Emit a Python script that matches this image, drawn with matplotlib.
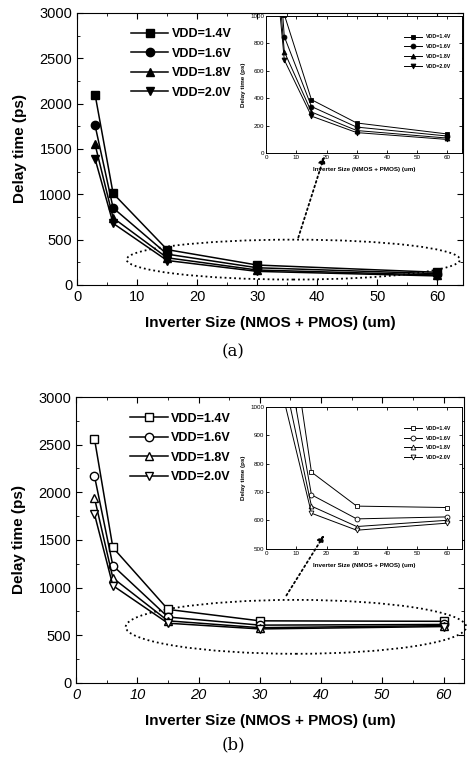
import matplotlib
matplotlib.use("Agg")
import matplotlib.pyplot as plt
from matplotlib.patches import Ellipse
from matplotlib.ticker import MultipleLocator

plt.rcParams['font.family'] = ['Liberation Sans', 'DejaVu Sans']

sizes = [3, 6, 15, 30, 60]
labels = ['VDD=1.4V', 'VDD=1.6V', 'VDD=1.8V', 'VDD=2.0V']
markers = ['s', 'o', '^', 'v']

# (a) delay time, ps
delay_a = [
    [2100, 1010, 390, 220, 140],
    [1760, 850, 340, 190, 125],
    [1550, 740, 300, 165, 110],
    [1390, 680, 270, 150, 100],
]
# (b) delay time, ps
delay_b = [
    [2560, 1420, 770, 650, 645],
    [2170, 1230, 690, 605, 612],
    [1940, 1100, 650, 578, 600],
    [1770, 1020, 625, 565, 590],
]

fig = plt.figure(figsize=(4.67, 7.62), dpi=100)


def draw_main(rect, data, filled, xmax, italic):
    ax = fig.add_axes(rect)
    for vals, lab, m in zip(data, labels, markers):
        ax.plot(sizes, vals, color='k', lw=1.1, marker=m, ms=6,
                mfc='k' if filled else 'white', mec='k', mew=1, label=lab)
    ax.set_xlim(0, xmax)
    ax.set_ylim(0, 3000)
    ax.xaxis.set_major_locator(MultipleLocator(10))
    ax.xaxis.set_minor_locator(MultipleLocator(5))
    ax.yaxis.set_major_locator(MultipleLocator(500))
    ax.yaxis.set_minor_locator(MultipleLocator(250))
    ax.set_xlabel('Inverter Size (NMOS + PMOS) (um)', fontsize=11, fontweight='bold', labelpad=9)
    ax.set_ylabel('Delay time (ps)', fontsize=11, fontweight='bold', labelpad=9)
    ax.tick_params(which='both', direction='in', top=True, right=True, labelsize=10.5)
    ax.tick_params(which='major', length=4)
    ax.tick_params(which='minor', length=2)
    if italic:
        for t in ax.get_xticklabels():
            t.set_style('italic')
    ax.legend(loc='upper left', bbox_to_anchor=(0.11, 0.985), frameon=False,
              prop={'size': 9, 'weight': 'bold'}, handlelength=3.0,
              labelspacing=0.6, handletextpad=0.3)
    return ax


def draw_inset(rect, data, filled, ylim, ystep):
    ax = fig.add_axes(rect)
    for vals, lab, m in zip(data, labels, markers):
        ax.plot(sizes, vals, color='k', lw=0.7, marker=m, ms=3.5,
                mfc='k' if filled else 'white', mec='k', mew=0.6, label=lab)
    ax.set_xlim(0, 65)
    ax.set_ylim(*ylim)
    ax.xaxis.set_major_locator(MultipleLocator(10))
    ax.yaxis.set_major_locator(MultipleLocator(ystep))
    ax.set_xlabel('Inverter Size (NMOS + PMOS) (um)', fontsize=4.5, fontweight='bold', labelpad=5)
    ax.set_ylabel('Delay time (ps)', fontsize=4.5, fontweight='bold', labelpad=3)
    ax.tick_params(which='both', direction='in', top=True, right=True, labelsize=4.5,
                   length=2, width=0.6, pad=1.5)
    for s in ax.spines.values():
        s.set_linewidth(0.7)
    ax.legend(loc='upper right', bbox_to_anchor=(0.97, 0.9), frameon=False,
              prop={'size': 3.8, 'weight': 'bold'}, handlelength=3.5, labelspacing=0.9)
    return ax


# (a)
ax_a = draw_main([0.165, 0.626, 0.827, 0.357], delay_a, True, 64.3, False)
ax_a.add_patch(Ellipse((36, 280), 55.5, 440, fill=False, ls=':', lw=1.3, color='k', clip_on=False))
in_a = draw_inset([0.570, 0.799, 0.420, 0.180], delay_a, True, (0, 1000), 200)
in_a.annotate('', xy=(19.5, -5), xycoords='data', xytext=(36.7, 495), textcoords=ax_a.transData,
              annotation_clip=False,
              arrowprops=dict(arrowstyle='-|>', ls=':', lw=1.3, color='k', mutation_scale=10))
fig.text(0.499, 0.538, '(a)', fontsize=12, family='DejaVu Serif', ha='center', va='center')

# (b)
ax_b = draw_main([0.163, 0.104, 0.83, 0.375], delay_b, False, 63.3, True)
ax_b.add_patch(Ellipse((35.9, 587), 55.6, 566, fill=False, ls=':', lw=1.3, color='k', clip_on=False))
in_b = draw_inset([0.570, 0.280, 0.420, 0.186], delay_b, False, (500, 1000), 100)
in_b.annotate('', xy=(19.7, 556), xycoords='data', xytext=(34.1, 892), textcoords=ax_b.transData,
              annotation_clip=False,
              arrowprops=dict(arrowstyle='-|>', ls=':', lw=1.3, color='k', mutation_scale=10))
fig.text(0.499, 0.022, '(b)', fontsize=12, family='DejaVu Serif', ha='center', va='center')

fig.savefig('out.png', dpi=100)
